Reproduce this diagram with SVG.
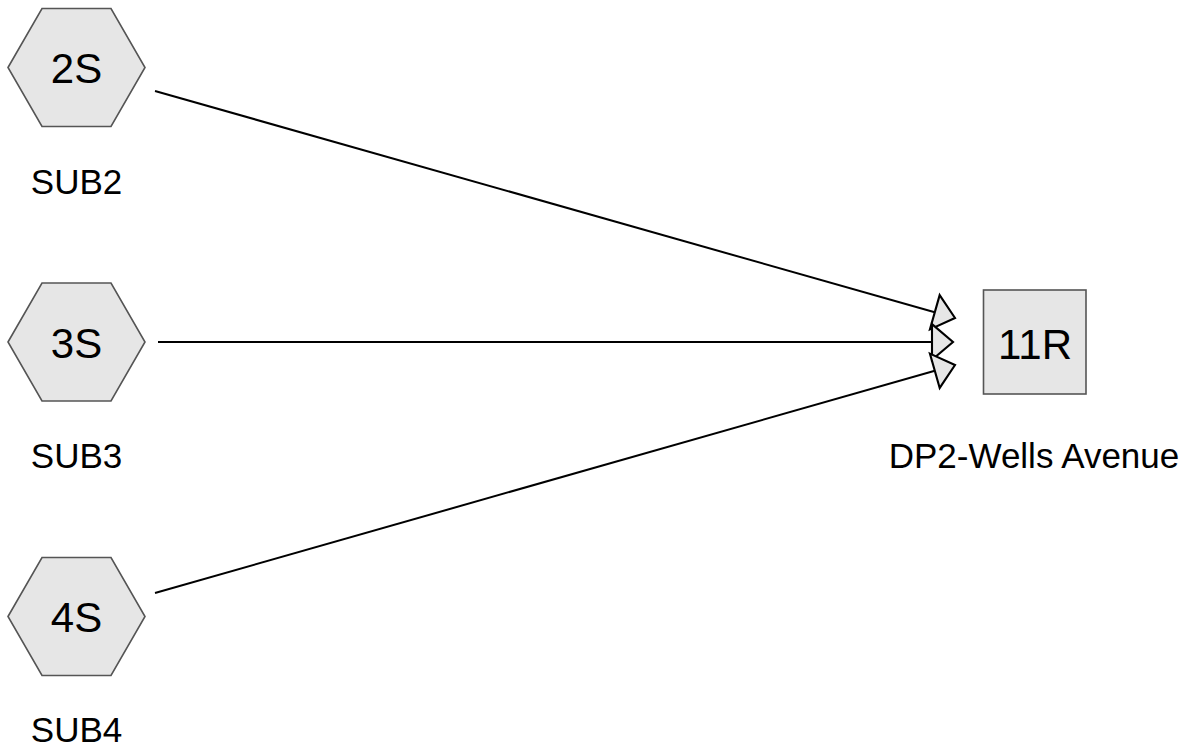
<svg xmlns="http://www.w3.org/2000/svg" width="1191" height="748" viewBox="0 0 1191 748">
<style>
.hex{fill:#e6e6e6;stroke:#555;stroke-width:1.6}
.box{fill:#e6e6e6;stroke:#555;stroke-width:1.6}
.id{font-family:"Liberation Sans",Arial,sans-serif;font-size:42px;fill:#000;text-anchor:middle}
.lbl{font-family:"Liberation Sans",Arial,sans-serif;font-size:35px;fill:#000;text-anchor:middle}
.edge{stroke:#000;stroke-width:2;fill:none;marker-end:url(#arr)}
</style>
<defs>
<marker id="arr" markerUnits="userSpaceOnUse" markerWidth="30" markerHeight="42" viewBox="-23 -20 26 40" refX="0" refY="0" orient="auto">
<path d="M-20,-17 L0,0 L-20,17 Z" fill="#e6e6e6" stroke="#000" stroke-width="2" stroke-linejoin="miter"/>
</marker>
</defs>
<g id="connectors">
<line class="edge" x1="155" y1="91" x2="955" y2="318"/>
<line class="edge" x1="158" y1="342" x2="953" y2="342"/>
<line class="edge" x1="155" y1="593" x2="955" y2="365"/>
</g>
<g id="node-2S">
<polygon class="hex" points="8,67.5 42,8.5 111,8.5 145,67.5 111,126.5 42,126.5"/>
<text class="id" x="76.5" y="83">2S</text>
<text class="lbl" x="76.5" y="194">SUB2</text>
</g>
<g id="node-3S">
<polygon class="hex" points="8,342 42,283 111,283 145,342 111,401 42,401"/>
<text class="id" x="76.5" y="357.5">3S</text>
<text class="lbl" x="76.5" y="468">SUB3</text>
</g>
<g id="node-4S">
<polygon class="hex" points="8,616.5 42,557.5 111,557.5 145,616.5 111,675.5 42,675.5"/>
<text class="id" x="76.5" y="632">4S</text>
<text class="lbl" x="76.5" y="742">SUB4</text>
</g>
<g id="node-11R">
<rect class="box" x="983.5" y="290" width="102.5" height="104"/>
<text class="id" x="1035" y="359">11R</text>
<text class="lbl" x="1034" y="468">DP2-Wells Avenue</text>
</g>
</svg>
